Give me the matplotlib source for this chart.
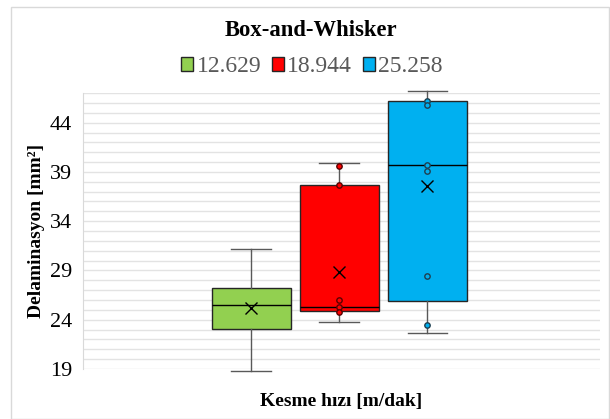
import matplotlib.pyplot as plt
from matplotlib.patches import Patch, Rectangle
import numpy as np

plt.rcParams['font.family'] = ['Liberation Serif', 'DejaVu Serif']

# series labels (cutting speed) and colours
series = ["12.629", "18.944", "25.258"]
colors = ["#92D050", "#FF0000", "#00B0F0"]

# box statistics [mm2]
whislo = [18.77, 23.80, 22.62]
q1 = [23.03, 24.92, 25.93]
med = [25.47, 25.26, 39.68]
q3 = [27.25, 37.71, 46.21]
whishi = [31.15, 39.94, 47.22]
means = [25.16, 28.82, 37.58]

# inner points (green series has none visible)
points = [
    [],
    [39.64, 37.71, 26.00, 25.32, 24.76],
    [46.24, 45.77, 39.68, 39.13, 28.41, 23.47],
]

positions = [-1, 0, 1]

fig = plt.figure(figsize=(6.10, 4.19), dpi=100)
ax = fig.add_axes([83 / 610, 1 - 369 / 419, 517 / 610, (369 - 93.1) / 419])

stats = []
for i in range(3):
    stats.append(dict(whislo=whislo[i], q1=q1[i], med=med[i], q3=q3[i],
                      whishi=whishi[i], mean=means[i], label=series[i]))

bp = ax.bxp(stats, positions=positions, widths=0.9, patch_artist=True,
            showmeans=True, showfliers=False,
            boxprops=dict(edgecolor="#262626", linewidth=1.0),
            medianprops=dict(color="#000000", linewidth=1.0),
            whiskerprops=dict(color="#595959", linewidth=1.0),
            capprops=dict(color="#595959", linewidth=1.0),
            meanprops=dict(marker="x", markeredgecolor="#000000",
                           markersize=8, markeredgewidth=1.0))
for patch, c in zip(bp["boxes"], colors):
    patch.set_facecolor(c)
for art in bp["whiskers"] + bp["caps"]:
    art.set_clip_on(False)

for i, pts in enumerate(points):
    if pts:
        ax.scatter([positions[i]] * len(pts), pts, s=15, color=colors[i],
                   edgecolors="#1f3f4f" if i == 2 else "#5a0000",
                   linewidths=1.0, zorder=5, clip_on=False)

ax.set_xlim(-2.91, 2.96)
ax.set_ylim(19, 47)
ax.set_yticks(np.arange(19, 45, 5))
ax.set_yticks(np.arange(19, 48, 1), minor=True)
ax.tick_params(axis='y', which='both', length=0, labelsize=16, pad=8)
ax.tick_params(axis='x', which='both', length=0, labelbottom=False)
ax.set_xticks([])
ax.grid(True, axis='y', which='both', color="#e3e3e3", linewidth=1.0)
ax.set_axisbelow(True)
for side in ['right', 'bottom', 'top']:
    ax.spines[side].set_visible(False)
ax.spines['left'].set_color("#d9d9d9")

ax.set_ylabel("Delaminasyon [mm²]", fontsize=14, fontweight='bold', labelpad=3)
fig.text(341.5 / 610, 1 - 401 / 419, "Kesme hızı [m/dak]", fontsize=14,
         fontweight='bold', ha='center', va='center')
fig.text(311 / 610, 1 - 31 / 419, "Box-and-Whisker", fontsize=16.3,
         fontweight='bold', ha='center', va='center')

handles = [Patch(facecolor=c, edgecolor="#262626", linewidth=1.0) for c in colors]
fig.legend(handles, series, loc='center', bbox_to_anchor=(312 / 610, 1 - 67 / 419),
           ncol=3, frameon=False, fontsize=17, handlelength=0.5, handleheight=0.5,
           handletextpad=0.15, columnspacing=0.45, labelcolor="#595959")

# outer chart border
fig.patches.append(Rectangle((11 / 610, 0.0), 598 / 610, 1 - 7 / 419,
                             transform=fig.transFigure, fill=False,
                             edgecolor="#d9d9d9", linewidth=1.0))

fig.savefig("out.png", dpi=100)
